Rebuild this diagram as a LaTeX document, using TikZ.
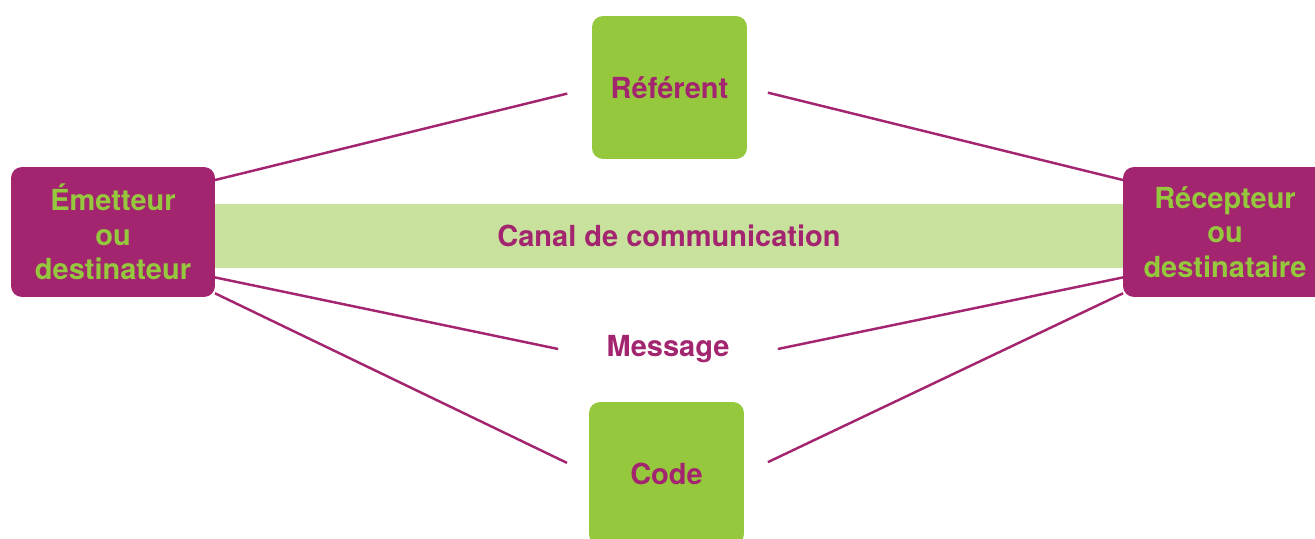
\documentclass[tikz,border=0pt]{standalone}
\usepackage{fontspec}
\setmainfont{TeX Gyre Heros}
\definecolor{prune}{HTML}{A3246F}
\definecolor{vert}{HTML}{95C83D}
\definecolor{vertclair}{HTML}{C8E29D}
\tikzset{
  pole/.style={fill=prune, text=vert, rounded corners=0.22cm, minimum width=4.08cm, minimum height=2.6cm, align=center, inner sep=0pt, outer sep=0pt},
  facteur/.style={fill=vert, text=prune, rounded corners=0.22cm, minimum width=3.1cm, minimum height=2.86cm, inner sep=0pt, outer sep=0pt},
  lien/.style={prune, line width=1.4pt},
}
\begin{document}
\begin{tikzpicture}[x=0.02cm, y=-0.02cm, font=\fontsize{16.5}{19.5}\selectfont\bfseries]
  \useasboundingbox (0,0) rectangle (1315,538);
  \clip (0,0) rectangle (1315,538);
  \node[fill=vertclair, text=prune, minimum width=18.16cm, minimum height=1.28cm, inner sep=0pt] (canal) at (669,236) {Canal de communication};
  \node[pole] (emetteur) at (113,232) {Émetteur\\ou\\destinateur};
  \node[pole] (recepteur) at (1225,232) {Récepteur\\ou\\destinataire};
  \node[facteur] (referent) at (669.5,87.5) {Référent};
  \node[facteur] (code) at (666.5,473.5) {Code};
  \node[text=prune, minimum width=4.38cm, inner sep=0pt] (message) at (668,349) {Message};
  \draw[lien, shorten >=0.51cm] (emetteur.27) -- (referent.west);
  \draw[lien, shorten <=0.43cm] (referent.east) -- (recepteur.153);
  \draw[lien] (emetteur.-24) -- (message.west);
  \draw[lien] (message.east) -- (recepteur.204);
  \draw[lien, shorten >=0.49cm] (emetteur.-31) -- (code.west);
  \draw[lien, shorten <=0.53cm] (code.east) -- (recepteur.211);
\end{tikzpicture}
\end{document}
